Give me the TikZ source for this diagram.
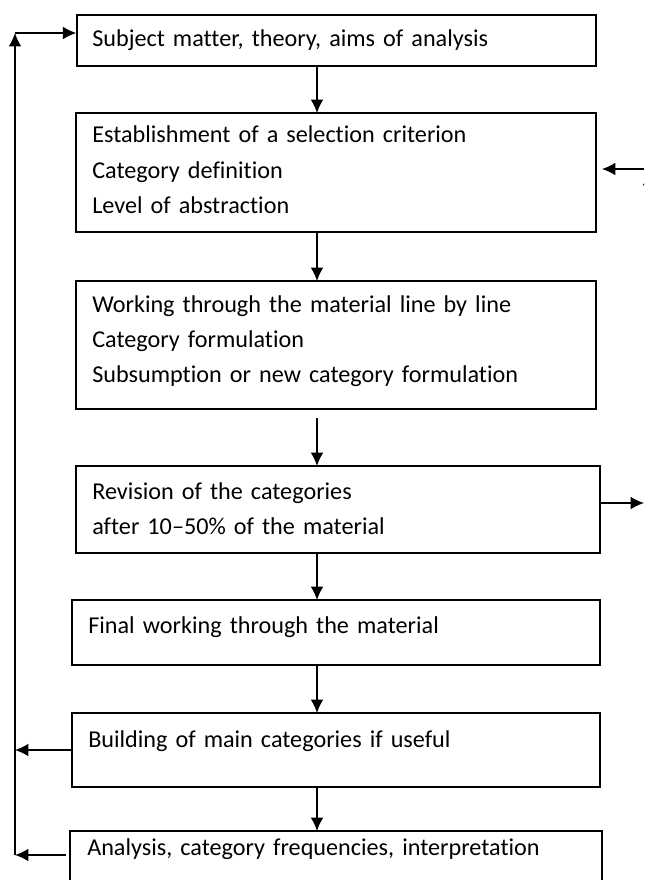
\documentclass[tikz,border=0pt]{standalone}
\usepackage{fontspec}
\setmainfont[Ligatures=NoCommon]{Carlito}
\usetikzlibrary{arrows.meta,positioning}

\begin{document}
\begin{tikzpicture}[x=0.025cm,y=-0.025cm,
  box/.style={draw,line width=0.9pt,inner sep=0pt},
  txt/.style={anchor=base west,align=left,text width=12.5cm,inner sep=0pt,
              font=\fontsize{17.2}{24.9}\selectfont},
  flow/.style={line width=0.9pt,-{Latex[length=9.5pt,width=9pt]}}]
\useasboundingbox (0,0) rectangle (644,880);
\clip (0,0) rectangle (644,880);
% boxes
\node[box,minimum width=12.975cm,minimum height=1.275cm] (aims) at (336.5,40.5) {};
\node[box,minimum width=13cm,minimum height=2.975cm] (crit) at (336,172.5) {};
\node[box,minimum width=13cm,minimum height=3.2cm] (work) at (336,345) {};
\node[box,minimum width=13.1cm,minimum height=2.175cm] (rev) at (338,509.5) {};
\node[box,minimum width=13.2cm,minimum height=1.625cm] (final) at (336,632.5) {};
\node[box,minimum width=13.2cm,minimum height=1.85cm] (main) at (336,750) {};
\node[box,minimum width=13.3cm,minimum height=1.5cm] (ana) at (336,861) {};
% texts
\node[txt] (taims) at (92,47) {Subject matter, theory, aims of analysis};
\node[txt] (tcrit) at (92,143) {Establishment of a selection criterion\\
  Category definition\\Level of abstraction};
\node[txt] (twork) at (92,312) {Working through the material line by line\\
  Category formulation\\Subsumption or new category formulation};
\node[txt] (trev) at (92,499) {Revision of the categories\\after 10--50\% of the material};
\node[txt] (tfinal) at (88,633) {Final working through the material};
\node[txt] (tmain) at (88,747) {Building of main categories if useful};
\node[txt] (tana) at (87,855) {Analysis, category frequencies, interpretation};
% main flow
\draw[flow] (317,66) -- (317,113);
\draw[flow] (317,232) -- (317,281);
\draw[flow] (317,418) -- (317,466);
\draw[flow] (317,553) -- (317,600);
\draw[flow] (317,665) -- (317,713);
\draw[flow] (317,787) -- (317,831);
% feedback left
\coordinate (lb) at (15,855);
\coordinate (lt) at (15,33);
\draw[flow] (main.west|-0,750) -- (15,750);
\draw[flow] (66,855) -- (lb);
\draw[flow] (lb) -- (lt);
\draw[flow] (lt) -- (aims.west|-lt);
% feedback right
\coordinate (rt) at (649,172);
\draw[flow] (rev.east|-0,503) -- (644,503);
\draw[flow] (649,503) -- (rt);
\draw[flow] (644,169) -- (602,169);
\end{tikzpicture}
\end{document}
